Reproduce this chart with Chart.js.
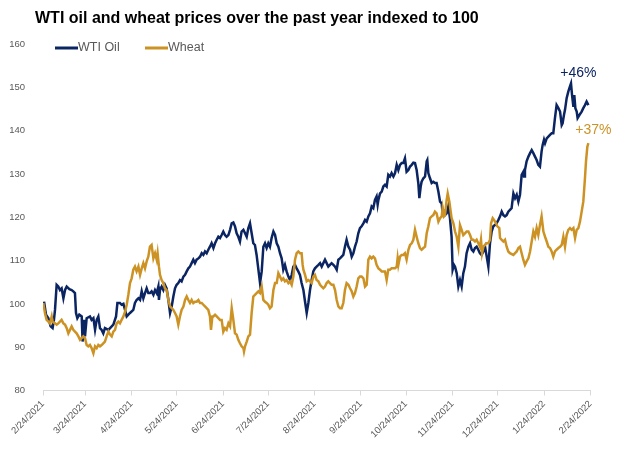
<!DOCTYPE html>
<html>
<head>
<meta charset="utf-8">
<script src="https://cdn.jsdelivr.net/npm/chart.js@4.4.1/dist/chart.umd.min.js"></script>
<style>
  html, body { margin: 0; padding: 0; background: #fff; }
</style>
</head>
<body>
<canvas id="myChart" width="624" height="449"></canvas>
<script>
// days counted from 2/24/2021, values indexed to 100
const chartTitle = 'WTI oil and wheat prices over the past year indexed to 100';
const seriesLabels = ['WTI Oil', 'Wheat'];

const tickDays = [0, 28, 59, 89, 120, 150, 181, 212, 242, 273, 303, 334, 365];
const tickLabels = ['2/24/2021', '3/24/2021', '4/24/2021', '5/24/2021', '6/24/2021', '7/24/2021',
    '8/24/2021', '9/24/2021', '10/24/2021', '11/24/2021', '12/24/2021', '1/24/2022', '2/24/2022'];

const wtiDays = [
    0.7,2.0,3.6,5.1,6.4,7.3,8.0,9.1,10.2,11.3,12.4,13.6,14.7,15.8,17.6,19.1,20.2,21.3,22.0,22.9,24.2,25.8,26.4,27.3,28.0,29.1,31.3,32.4,33.6,34.7,35.8,36.9,38.0,39.1,40.2,41.3,43.6,45.8,46.9,48.7,49.6,51.3,52.4,53.6,54.7,55.8,56.9,58.0,60.2,61.3,
    62.4,63.6,64.7,65.8,66.9,68.0,69.1,70.2,71.3,72.4,73.6,74.7,75.8,76.9,77.3,78.0,79.1,80.2,81.3,82.4,83.6,84.7,85.8,86.9,88.0,89.1,90.2,91.3,92.4,93.6,94.7,95.8,96.9,98.0,99.1,100.2,101.3,102.4,103.6,104.7,105.8,106.9,108.0,109.1,110.2,111.3,112.4,113.6,114.7,115.8,116.9,118.0,119.1,120.2,121.3,122.4,123.6,124.7,125.8,126.9,128.0,
    129.1,130.2,131.3,132.4,133.6,134.7,135.8,136.9,138.0,139.1,140.2,141.3,142.4,143.6,144.7,145.8,146.9,148.0,149.1,150.2,151.3,152.4,153.6,154.7,155.8,156.9,158.0,159.1,160.2,161.3,162.4,163.6,164.7,165.8,166.9,168.0,169.1,170.2,171.3,172.4,173.6,174.7,175.8,176.9,178.0,179.1,180.2,181.3,182.4,183.6,184.7,185.8,186.9,188.0,189.1,190.2,191.3,
    192.4,193.6,194.7,195.8,196.9,198.0,199.1,200.2,201.3,202.4,203.6,204.7,205.8,206.9,208.0,209.1,210.2,211.3,212.4,213.6,214.7,215.8,216.9,218.0,219.1,220.2,221.3,222.4,223.1,223.6,224.7,225.8,226.9,228.0,229.1,230.2,231.3,232.4,233.6,234.7,235.8,236.9,238.0,239.1,240.2,241.3,242.4,243.6,244.7,245.8,246.9,248.0,249.1,250.2,250.9,251.8,252.4,253.6,254.7,
    255.8,256.2,256.9,258.0,259.1,260.2,261.3,262.4,263.6,264.7,265.8,266.4,267.3,268.0,269.1,270.2,271.3,272.4,273.1,274.0,274.7,275.8,276.9,278.0,279.1,280.2,281.3,282.4,283.6,284.7,285.8,286.9,288.0,289.1,290.2,291.3,292.4,293.6,294.7,295.8,296.9,298.0,299.1,300.2,301.3,302.4,303.6,304.7,305.8,306.9,308.0,309.1,310.2,
    312.4,313.6,314.7,315.8,316.9,318.0,319.1,320.2,320.7,321.3,322.4,323.6,324.7,325.8,326.9,328.0,329.1,330.2,331.3,332.4,333.1,334.0,334.7,335.8,336.9,338.0,339.1,340.2,341.3,342.4,343.6,344.7,345.8,346.4,347.3,348.0,349.1,350.2,351.3,352.0,352.7,353.6,354.2,354.9,355.8,356.4,357.6,359.1,360.2,361.3,362.4,363.6
];
const wtiValues = [
    100.5,97.5,96.7,94.8,94.4,96.3,98.6,104.4,104.0,103.2,103.6,101.3,103.2,104.0,103.4,103.2,102.9,102.5,97.9,96.7,97.5,97.1,91.3,96.3,92.5,96.7,97.1,96.3,96.7,94.0,96.3,97.1,94.4,94.0,93.2,94.4,94.0,94.8,95.2,97.1,100.2,100.2,99.8,100.0,98.6,97.1,97.5,97.9,98.6,100.2,
    100.9,101.3,100.9,102.9,101.3,102.5,103.6,102.5,102.5,102.9,102.1,103.2,102.5,104.0,100.9,103.2,104.0,103.2,104.4,103.6,100.9,97.9,99.4,101.7,103.6,104.4,104.8,105.5,105.2,106.3,106.7,107.5,108.2,108.6,109.4,110.2,109.4,110.2,110.5,110.9,111.7,111.3,112.1,111.7,112.5,113.2,114.0,112.9,114.0,114.8,115.5,115.2,115.9,116.7,115.9,115.5,115.9,117.1,118.6,118.8,117.9,
    116.3,115.5,114.4,116.7,117.1,116.3,115.5,117.5,118.6,116.3,114.0,113.6,111.3,107.9,104.8,107.5,113.2,114.0,112.9,114.0,113.2,115.2,116.7,115.9,114.0,113.2,111.7,110.5,107.9,109.0,107.5,106.3,105.5,106.7,108.6,109.0,108.2,107.5,106.7,104.8,103.2,100.5,97.9,100.2,103.2,105.5,107.5,108.2,108.6,109.0,109.4,108.6,109.4,110.2,109.4,108.6,109.0,
    109.4,109.0,108.6,107.9,110.2,110.5,110.9,111.3,113.2,114.8,113.2,112.5,110.9,111.7,113.2,114.4,116.3,117.5,117.9,118.6,119.4,119.0,120.2,120.9,122.5,122.1,124.0,124.8,122.9,124.0,125.5,125.9,127.1,127.5,127.1,129.8,129.4,130.2,129.4,130.2,132.1,130.9,132.1,132.5,132.5,133.6,130.5,130.9,131.7,132.1,132.6,132.5,130.9,127.9,124.4,127.1,128.2,129.0,129.4,
    132.9,133.2,130.2,129.0,127.9,128.2,127.9,127.9,125.9,123.6,123.2,120.9,121.3,120.5,120.9,122.5,119.8,115.5,107.9,109.0,108.6,107.1,104.0,105.5,104.0,107.1,108.6,111.7,113.2,114.0,112.5,112.1,112.9,113.2,112.5,111.7,111.3,112.1,113.2,110.9,108.6,114.0,116.7,117.9,118.2,118.6,119.4,120.2,121.3,120.5,120.2,120.5,121.3,
    122.1,125.5,124.4,125.2,123.6,125.2,129.8,130.5,129.4,130.9,132.9,134.0,134.8,135.5,134.8,134.0,133.2,132.1,131.7,135.2,136.7,137.9,137.1,138.2,138.6,139.0,139.4,139.4,142.9,145.9,145.2,144.4,141.3,141.7,143.6,144.8,147.5,149.0,150.2,150.9,148.2,145.5,148.2,145.2,144.4,142.9,143.6,144.4,145.2,145.9,146.7,145.9
];

const wheatDays = [
    0.2,1.3,2.4,3.6,4.7,5.8,6.4,8.0,9.1,10.2,11.3,12.4,13.6,14.7,15.8,16.9,18.0,19.1,20.2,21.3,22.4,23.6,24.7,25.8,26.9,28.0,29.1,30.2,31.3,32.4,33.6,34.7,35.8,36.9,38.0,39.1,40.2,41.3,42.4,43.6,44.7,45.8,46.9,48.0,49.1,50.2,51.3,52.4,53.6,54.7,55.8,56.9,58.0,59.1,60.2,61.3,
    62.4,63.6,64.7,65.8,66.9,68.0,69.1,70.2,71.3,72.4,73.6,74.7,75.8,76.4,77.3,78.0,79.1,80.2,81.3,82.4,83.6,84.7,85.8,86.9,88.0,89.1,90.2,91.3,92.4,93.6,94.7,95.8,96.9,98.0,99.1,100.2,101.3,102.4,103.6,104.7,105.8,106.9,108.0,109.1,110.2,111.3,112.0,112.9,113.6,114.7,115.8,116.9,118.0,119.1,120.2,121.3,122.4,123.6,124.7,125.8,126.9,
    128.0,129.1,130.2,131.3,132.4,133.6,134.0,134.7,135.8,136.9,138.0,139.1,140.2,141.3,142.4,143.6,144.7,145.8,146.9,148.0,149.1,150.2,151.3,152.4,153.6,154.7,155.8,156.9,158.0,159.1,160.2,161.3,162.4,163.6,164.7,165.8,166.9,168.0,169.1,170.2,171.3,172.4,173.1,173.6,174.7,175.8,176.9,178.0,179.1,180.2,181.3,182.4,183.6,184.7,185.8,186.9,188.0,189.1,190.2,191.3,
    192.4,193.6,194.7,195.8,196.9,198.0,199.1,200.2,201.3,202.4,203.6,204.7,205.8,206.9,208.0,209.1,210.2,211.3,212.4,213.6,214.7,215.8,216.9,218.0,219.1,220.2,221.3,222.4,223.6,224.7,225.8,226.9,228.0,229.1,230.2,231.3,232.4,233.6,234.7,235.8,236.4,236.9,238.0,239.1,240.2,241.3,242.4,243.6,244.7,245.8,246.9,248.0,249.1,250.2,251.3,252.4,253.6,254.7,
    255.8,256.9,258.0,259.1,260.2,261.3,262.4,263.6,264.7,265.8,266.4,267.3,268.0,269.1,269.8,270.9,271.8,272.4,273.6,274.7,275.8,276.9,278.0,279.1,280.2,281.3,282.4,283.6,284.7,285.8,286.9,288.0,289.1,290.2,291.3,292.0,292.7,293.6,294.7,295.8,296.9,298.0,298.7,299.8,300.7,302.0,302.9,304.2,304.7,305.8,306.9,308.0,309.1,310.2,311.3,
    313.6,314.7,315.8,316.9,318.0,319.1,320.2,321.3,322.4,323.6,324.7,325.8,326.9,328.0,329.1,330.2,331.3,332.4,333.6,334.7,335.8,336.9,338.0,339.1,340.2,341.3,342.4,343.6,344.7,345.8,346.9,348.0,349.1,350.2,351.3,352.4,353.6,354.7,355.8,356.9,358.0,359.1,360.2,361.3,362.0,362.9,363.6
];
const wheatValues = [
    100.2,97.9,96.3,95.9,95.5,97.1,95.9,95.5,95.2,95.5,95.9,96.3,95.5,95.2,94.4,93.2,94.0,94.8,94.0,93.6,93.2,92.5,91.7,92.1,92.5,92.1,90.5,90.2,90.5,89.8,88.6,90.2,89.8,90.5,90.2,90.5,90.9,91.3,92.5,93.6,92.9,92.5,93.6,94.0,95.5,95.9,95.5,96.3,97.1,98.2,99.8,102.1,104.8,105.9,107.9,108.6,
    107.5,108.6,106.7,108.2,109.4,108.2,109.8,110.9,113.2,113.6,110.5,111.7,110.2,111.7,108.6,106.7,105.5,104.8,103.6,103.2,100.9,99.4,99.0,98.6,97.9,97.1,95.2,97.1,98.6,99.4,100.9,101.7,100.9,100.2,100.9,100.2,100.5,100.5,100.9,100.2,100.2,99.8,99.4,99.0,98.6,97.1,94.0,97.1,97.1,97.5,97.1,96.7,96.3,96.3,93.6,94.4,94.0,95.5,94.8,99.0,96.3,
    93.2,92.9,91.7,90.9,90.2,89.8,89.0,90.2,91.3,92.5,92.9,97.9,101.7,102.1,102.5,102.9,102.5,104.0,100.9,100.5,100.2,99.8,99.0,99.4,103.2,104.8,104.8,107.1,106.3,105.5,105.9,105.2,105.5,104.8,105.2,104.4,106.3,110.2,111.7,112.1,111.7,111.7,109.0,107.9,106.7,105.2,105.5,105.2,104.8,106.3,106.7,105.5,105.2,104.4,104.0,103.6,104.0,104.8,105.2,104.8,
    104.4,104.4,103.2,100.9,99.4,99.0,99.0,100.2,103.2,104.8,104.4,103.6,102.9,101.7,102.5,104.0,105.9,106.3,106.3,105.9,104.0,104.4,110.2,110.9,110.5,110.9,110.5,109.0,108.2,107.9,107.5,107.5,107.5,105.5,107.9,107.9,108.2,108.2,108.2,108.6,110.5,109.0,110.9,111.3,111.3,111.7,110.2,112.5,113.6,114.0,114.8,117.1,115.5,114.0,112.9,112.5,112.9,113.2,
    116.3,117.9,119.8,120.2,120.5,121.3,120.9,119.0,119.8,120.2,122.1,120.2,120.5,124.0,125.5,123.6,121.3,119.8,118.6,116.7,115.5,113.2,118.2,117.1,115.9,116.3,116.7,116.7,115.9,114.8,114.8,114.4,114.8,114.0,113.2,114.8,111.7,113.2,113.6,114.0,114.0,114.8,118.6,119.8,119.4,118.6,117.9,117.5,115.2,114.8,114.4,114.8,113.2,112.1,111.7,
    111.3,111.7,112.1,112.9,113.2,111.7,110.2,109.0,109.8,110.5,112.1,114.4,116.7,115.5,117.5,115.9,118.2,120.2,116.7,115.5,114.4,113.2,112.9,112.1,110.9,112.1,112.5,112.9,113.2,113.6,115.5,113.2,115.9,117.1,117.5,117.1,117.5,115.2,117.1,117.5,119.0,121.3,123.6,129.0,132.9,136.3,137.1
];

const navy = '#0b2462';
const gold = '#cc9224';
const greyText = '#595959';

// title, legend and end-of-line change labels
const decorations = {
    id: 'decorations',
    afterDraw(chart) {
        const ctx = chart.ctx;
        ctx.save();
        ctx.textBaseline = 'middle';
        ctx.fillStyle = '#000';
        ctx.font = 'bold 16px "Liberation Sans", sans-serif';
        ctx.fillText(chartTitle, 35, 19);

        const legendX = [55, 145];
        chart.data.datasets.forEach((ds, i) => {
            const x = legendX[i];
            ctx.strokeStyle = ds.borderColor;
            ctx.lineWidth = 3;
            ctx.beginPath();
            ctx.moveTo(x, 48);
            ctx.lineTo(x + 23, 48);
            ctx.stroke();
            ctx.fillStyle = greyText;
            ctx.font = '12.5px "Liberation Sans", sans-serif';
            ctx.fillText(ds.label, x + 23, 48);
        });

        const offsets = [[-10, -32], [5, -13]];
        chart.data.datasets.forEach((ds, i) => {
            const meta = chart.getDatasetMeta(i);
            const last = meta.data[meta.data.length - 1];
            const v = ds.data[ds.data.length - 1].y;
            ctx.fillStyle = ds.borderColor;
            ctx.font = '14px "Liberation Sans", sans-serif';
            ctx.textAlign = 'center';
            ctx.fillText('+' + Math.round(v - 100) + '%', last.x + offsets[i][0], last.y + offsets[i][1]);
        });
        ctx.restore();
    }
};

const ctx = document.getElementById('myChart').getContext('2d');
const myChart = new Chart(ctx, {
    type: 'line',
    data: {
        datasets: [{
            label: seriesLabels[0],
            data: wtiDays.map((d, i) => ({ x: d, y: wtiValues[i] })),
            borderColor: navy,
            borderWidth: 2.5,
            pointRadius: 0,
            order: 1
        }, {
            label: seriesLabels[1],
            data: wheatDays.map((d, i) => ({ x: d, y: wheatValues[i] })),
            borderColor: gold,
            borderWidth: 2.5,
            pointRadius: 0,
            order: 0
        }]
    },
    options: {
        responsive: false,
        animation: false,
        layout: { padding: { top: 44, right: 33.5, left: 0, bottom: 0 } },
        plugins: {
            legend: { display: false },
            title: { display: false },
            tooltip: { enabled: false }
        },
        scales: {
            x: {
                type: 'linear',
                min: 0,
                max: 365,
                afterBuildTicks: (scale) => { scale.ticks = tickDays.map(v => ({ value: v })); },
                afterFit: (scale) => { scale.height = 58.5; },
                ticks: {
                    autoSkip: false,
                    minRotation: 45,
                    maxRotation: 45,
                    color: greyText,
                    font: { family: 'Liberation Sans', size: 9.5 },
                    callback: (value) => tickLabels[tickDays.indexOf(value)]
                },
                grid: { drawOnChartArea: false, drawTicks: true, tickLength: 5, color: '#d9d9d9' },
                border: { color: '#d9d9d9' }
            },
            y: {
                min: 80,
                max: 160,
                afterFit: (scale) => { scale.width = 43; },
                ticks: {
                    stepSize: 10,
                    padding: 10,
                    color: greyText,
                    font: { family: 'Liberation Sans', size: 9.5 }
                },
                grid: { display: false },
                border: { display: false }
            }
        }
    },
    plugins: [decorations]
});
</script>
</body>
</html>
